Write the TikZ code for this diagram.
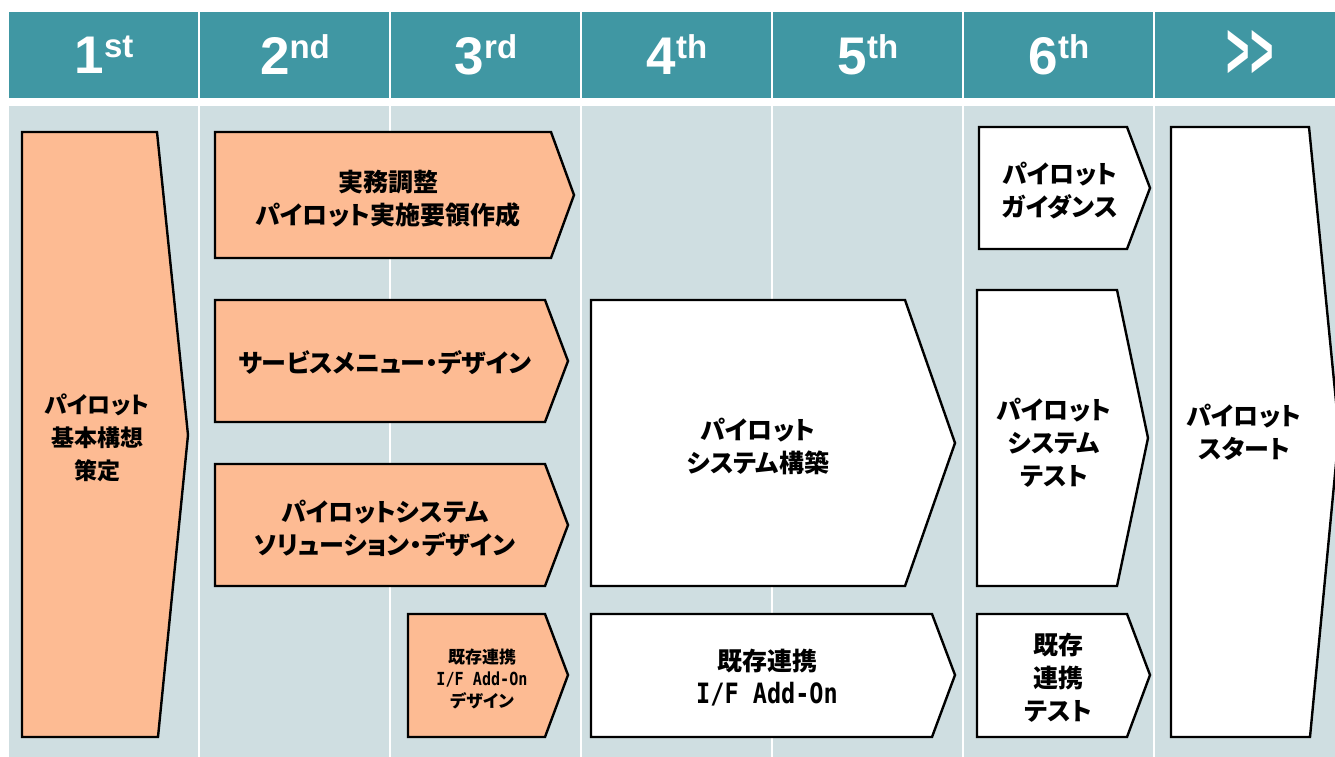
\documentclass[tikz,border=0pt]{standalone}
\usepackage{fontspec}
\setmainfont{Liberation Sans}
\newfontfamily\jpfont[RawFeature=+palt]{Noto Sans CJK JP}
\newfontfamily\addonfont[FakeStretch=0.84]{DejaVu Sans Mono}
\definecolor{headteal}{RGB}{64,151,163}
\definecolor{bodygray}{RGB}{207,222,225}
\definecolor{taskorange}{RGB}{253,187,147}
\newcommand{\ordhead}[2]{{\fontsize{53}{53}\selectfont\bfseries #1}\raisebox{16pt}{\fontsize{33}{33}\selectfont\bfseries #2}}
\tikzset{
  headcell/.style={fill=headteal},
  bodycell/.style={fill=bodygray},
  headtext/.style={text=white,inner sep=0pt},
  orangetask/.style={draw=black,line width=2.4pt,fill=taskorange},
  whitetask/.style={draw=black,line width=2.4pt,fill=white},
  tasktext/.style={align=center,inner sep=0pt,font=\jpfont\bfseries\fontsize{25}{33}\selectfont},
  smalltext/.style={align=center,inner sep=0pt,font=\jpfont\bfseries\fontsize{17}{22}\selectfont}
}
\begin{document}
\begin{tikzpicture}[x=1pt,y=-1pt]
\useasboundingbox (0,0) rectangle (1335,757);
\fill[white] (0,0) rectangle (1335,757);
% header row
\fill[headcell] (9,12) rectangle (198,98);
\fill[headcell] (200,12) rectangle (389,98);
\fill[headcell] (391,12) rectangle (580,98);
\fill[headcell] (582,12) rectangle (771,98);
\fill[headcell] (773,12) rectangle (962,98);
\fill[headcell] (964,12) rectangle (1153,98);
\fill[headcell] (1155,12) rectangle (1335,98);
\node[headtext] (hd1) at (104,55) {\ordhead{1}{st}};
\node[headtext] (hd2) at (295,55) {\ordhead{2}{nd}};
\node[headtext] (hd3) at (486,55) {\ordhead{3}{rd}};
\node[headtext] (hd4) at (677,55) {\ordhead{4}{th}};
\node[headtext] (hd5) at (868,55) {\ordhead{5}{th}};
\node[headtext] (hd6) at (1059,55) {\ordhead{6}{th}};
\node[headtext] (hdnext) at (1250,54) {\scalebox{0.5}[1]{\fontsize{80}{80}\selectfont\bfseries >{}>}};
% body columns
\fill[bodycell] (9,106) rectangle (198,757);
\fill[bodycell] (200,106) rectangle (389,757);
\fill[bodycell] (391,106) rectangle (580,757);
\fill[bodycell] (582,106) rectangle (771,757);
\fill[bodycell] (773,106) rectangle (962,757);
\fill[bodycell] (964,106) rectangle (1153,757);
\fill[bodycell] (1155,106) rectangle (1335,757);
% orange tasks
\draw[orangetask] (22,132) -- (157,132) -- (188,435) -- (158,737) -- (22,737) -- cycle;
\draw[orangetask] (215,132) -- (551,132) -- (574,195) -- (551,258) -- (215,258) -- cycle;
\draw[orangetask] (215,300) -- (545,300) -- (568,361) -- (545,422) -- (215,422) -- cycle;
\draw[orangetask] (215,464) -- (545,464) -- (568,525) -- (545,586) -- (215,586) -- cycle;
\draw[orangetask] (408,614) -- (545,614) -- (568,675) -- (545,737) -- (408,737) -- cycle;
% white tasks
\draw[whitetask] (591,300) -- (905,300) -- (955,443) -- (905,586) -- (591,586) -- cycle;
\draw[whitetask] (591,614) -- (932,614) -- (955,675) -- (932,737) -- (591,737) -- cycle;
\draw[whitetask] (979,127) -- (1127,127) -- (1150,188) -- (1127,249) -- (979,249) -- cycle;
\draw[whitetask] (977,290) -- (1117,290) -- (1148,438) -- (1117,586) -- (977,586) -- cycle;
\draw[whitetask] (977,614) -- (1127,614) -- (1150,675) -- (1127,737) -- (977,737) -- cycle;
\draw[whitetask] (1171,127) -- (1309,127) -- (1339,432) -- (1310,737) -- (1171,737) -- cycle;
% labels
\node[tasktext,font=\jpfont\bfseries\fontsize{23}{33}\selectfont] (concept) at (97,438) {パイロット\\基本構想\\策定};
\node[tasktext] (adjust) at (388,199) {実務調整\\パイロット実施要領作成};
\node[tasktext] (menu) at (385,363) {サービスメニュー・デザイン};
\node[tasktext] (solution) at (385,528) {パイロットシステム\\ソリューション・デザイン};
\node[smalltext] (ifdesign) at (482,679) {既存連携\\{\addonfont\fontsize{18}{22}\selectfont I/F Add-On}\\デザイン};
\node[tasktext] (build) at (758,446) {パイロット\\システム構築};
\node[tasktext] (addon) at (767,678) {既存連携\\{\addonfont\fontsize{28}{33}\selectfont I/F Add-On}};
\node[tasktext] (guide) at (1060,191) {パイロット\\ガイダンス};
\node[tasktext] (systest) at (1054,443) {パイロット\\システム\\テスト};
\node[tasktext] (iftest) at (1058,678) {既存\\連携\\テスト};
\node[tasktext] (start) at (1244,432) {パイロット\\スタート};
\end{tikzpicture}
\end{document}
